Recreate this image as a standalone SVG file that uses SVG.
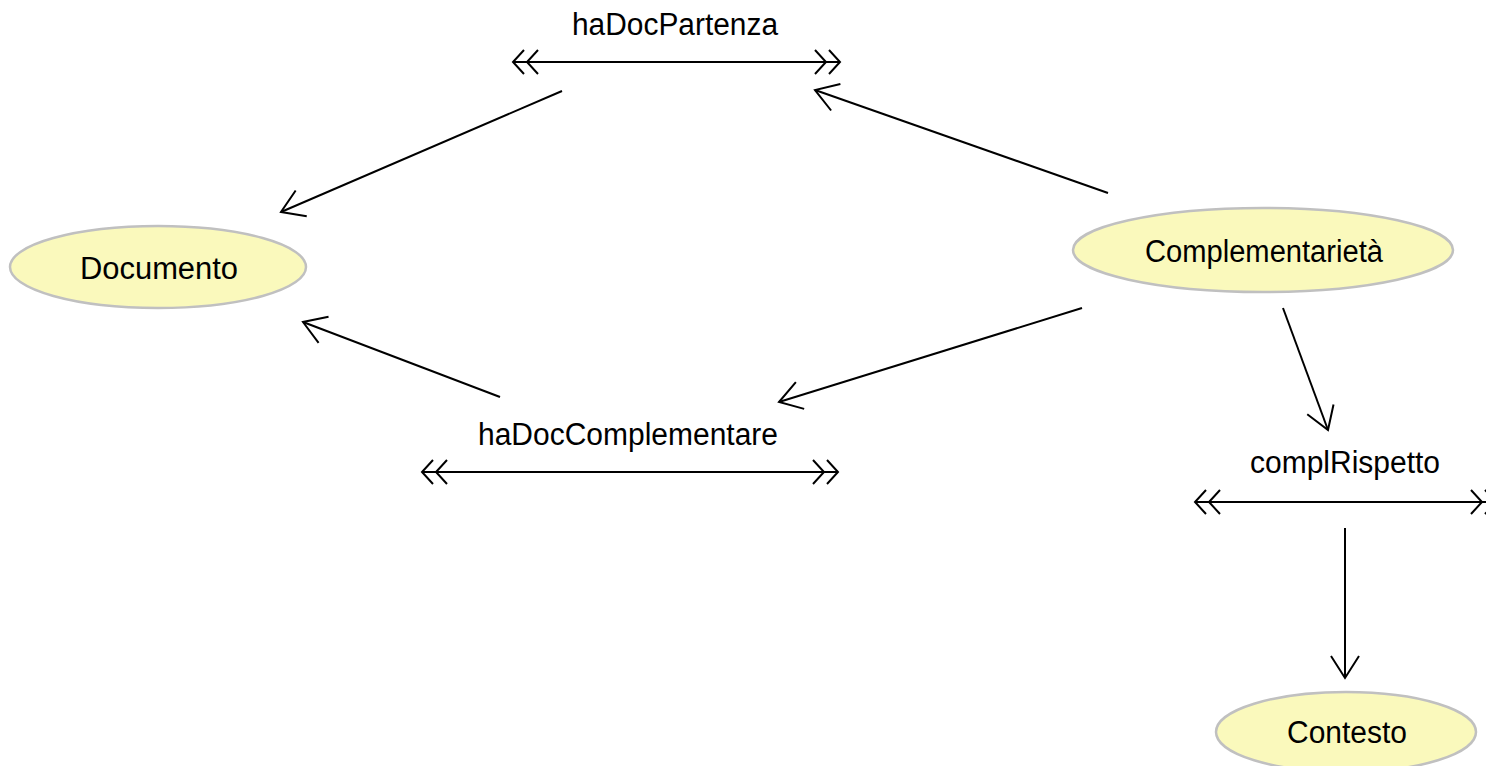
<svg xmlns="http://www.w3.org/2000/svg" width="1486" height="766" viewBox="0 0 1486 766">
<defs>
<style>
.node ellipse{fill:#FAF9BC;stroke:#C0C0C0;stroke-width:2.5}
text{font-family:"Liberation Sans",Arial,sans-serif;font-size:31px;fill:#000;text-anchor:middle}
.edge{stroke:#000;stroke-width:2;fill:none}
.chev{stroke:#000;stroke-width:2;fill:none}
</style>
<marker id="open" markerUnits="userSpaceOnUse" markerWidth="40" markerHeight="40" refX="0" refY="0" viewBox="-30 -20 40 40" orient="auto" overflow="visible">
<path d="M-22,-14 L0,0 L-22,14" fill="none" stroke="#000" stroke-width="2"/>
</marker>
</defs>
<rect width="1486" height="766" fill="#fff"/>
<g id="connectors">
<line class="edge" x1="513" y1="62" x2="840" y2="62"/>
<path class="chev" d="M524,50 L513,62 L524,74 M538,50 L527,62 L538,74 M829,50 L840,62 L829,74 M815,50 L826,62 L815,74"/>
<line class="edge" x1="562" y1="91" x2="281" y2="212" marker-end="url(#open)"/>
<line class="edge" x1="1108" y1="193" x2="815" y2="90" marker-end="url(#open)"/>
<line class="edge" x1="422" y1="472" x2="838" y2="472"/>
<path class="chev" d="M433,460 L422,472 L433,484 M447,460 L436,472 L447,484 M827,460 L838,472 L827,484 M813,460 L824,472 L813,484"/>
<line class="edge" x1="500" y1="397" x2="303" y2="322" marker-end="url(#open)"/>
<line class="edge" x1="1082" y1="308" x2="779" y2="402" marker-end="url(#open)"/>
<line class="edge" x1="1283" y1="308" x2="1328" y2="430" marker-end="url(#open)"/>
<line class="edge" x1="1195" y1="502" x2="1486" y2="502"/>
<path class="chev" d="M1206,490 L1195,502 L1206,514 M1220,490 L1209,502 L1220,514 M1471,490 L1482,502 L1471,514 M1485,490 L1496,502 L1485,514"/>
<line class="edge" x1="1345" y1="528" x2="1345" y2="678" marker-end="url(#open)"/>
</g>
<g id="label-haDocPartenza"><text x="675" y="35" textLength="206" lengthAdjust="spacingAndGlyphs">haDocPartenza</text></g>
<g id="label-haDocComplementare"><text x="628" y="445" textLength="300" lengthAdjust="spacingAndGlyphs">haDocComplementare</text></g>
<g id="label-complRispetto"><text x="1345" y="473" textLength="190" lengthAdjust="spacingAndGlyphs">complRispetto</text></g>
<g id="node-Documento" class="node">
<ellipse cx="158" cy="267" rx="148" ry="41"/>
<text x="159" y="279" textLength="158" lengthAdjust="spacingAndGlyphs">Documento</text>
</g>
<g id="node-Complementarieta" class="node">
<ellipse cx="1263" cy="250" rx="190" ry="42"/>
<text x="1264" y="262" textLength="238" lengthAdjust="spacingAndGlyphs">Complementarietà</text>
</g>
<g id="node-Contesto" class="node">
<ellipse cx="1346" cy="732" rx="130" ry="40"/>
<text x="1347" y="743" textLength="120" lengthAdjust="spacingAndGlyphs">Contesto</text>
</g>
</svg>
